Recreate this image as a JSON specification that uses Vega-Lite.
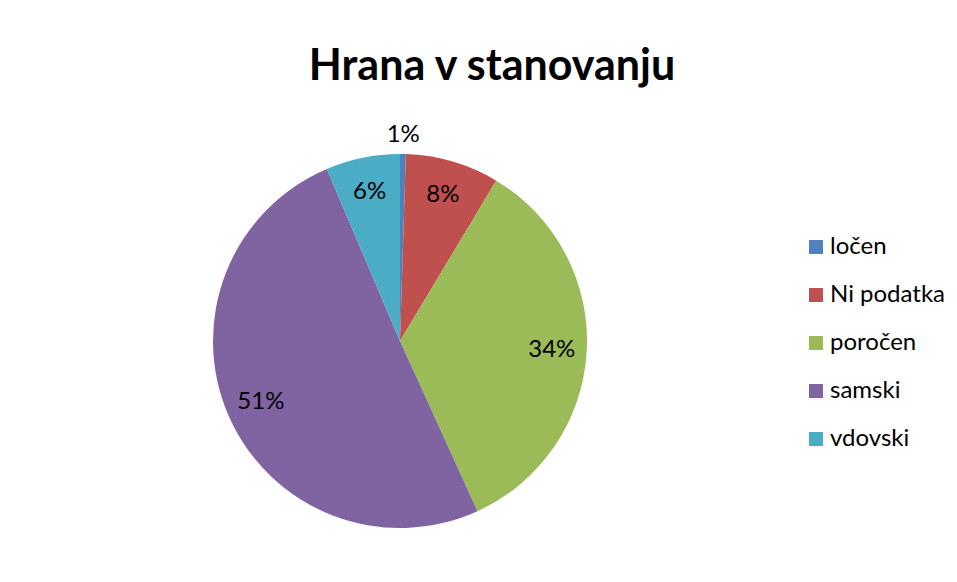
{
  "$schema": "https://vega.github.io/schema/vega-lite/v6.json",
  "autosize": {"type": "none"},
  "width": 800,
  "height": 482,
  "padding": {"left": 0, "top": 100, "right": 157, "bottom": 0},
  "background": "white",
  "title": {
    "text": "Hrana v stanovanju",
    "font": "Lato",
    "fontSize": 43,
    "fontWeight": "bold",
    "color": "#000000",
    "anchor": "middle",
    "dx": 92,
    "offset": 11
  },
  "data": {
    "values": [
      {"cat": "ločen", "pct": 0.5, "label": "1%", "ord": 1},
      {"cat": "Ni podatka", "pct": 8.1, "label": "8%", "ord": 2},
      {"cat": "poročen", "pct": 34.6, "label": "34%", "ord": 3},
      {"cat": "samski", "pct": 50.4, "label": "51%", "ord": 4},
      {"cat": "vdovski", "pct": 6.4, "label": "6%", "ord": 5}
    ]
  },
  "encoding": {
    "theta": {"field": "pct", "type": "quantitative", "stack": true},
    "order": {"field": "ord", "type": "quantitative", "sort": "ascending"}
  },
  "layer": [
    {
      "mark": {"type": "arc", "outerRadius": 187},
      "encoding": {
        "color": {
          "field": "cat",
          "type": "nominal",
          "scale": {
            "domain": ["ločen", "Ni podatka", "poročen", "samski", "vdovski"],
            "range": ["#4F81BD", "#C0504D", "#9BBB59", "#8064A2", "#4BACC6"]
          },
          "legend": {
            "title": null,
            "orient": "none",
            "legendX": 804,
            "legendY": 135,
            "symbolType": "square",
            "symbolSize": 196,
            "symbolStrokeWidth": 0,
            "labelFont": "Lato",
            "labelFontSize": 24,
            "labelColor": "#000000",
            "labelOffset": 2,
            "rowPadding": 24,
            "padding": 0
          }
        }
      }
    },
    {
      "mark": {"type": "text", "radius": 152, "font": "Lato", "fontSize": 24, "color": "#000000"},
      "encoding": {
        "text": {"condition": {"test": "datum.cat !== 'ločen'", "field": "label"}, "value": ""}
      }
    },
    {
      "mark": {"type": "text", "radius": 206, "font": "Lato", "fontSize": 24, "color": "#000000"},
      "encoding": {
        "text": {"condition": {"test": "datum.cat === 'ločen'", "field": "label"}, "value": ""}
      }
    }
  ],
  "config": {"view": {"stroke": null}}
}
